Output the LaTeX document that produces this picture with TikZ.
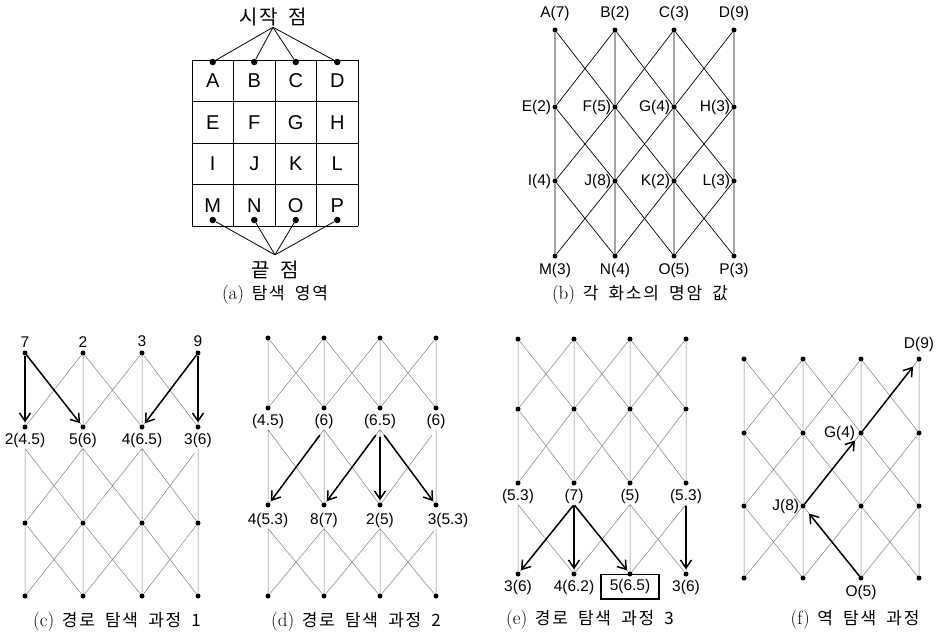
\documentclass[tikz,border=0pt]{standalone}
\usepackage{fontspec}
\setsansfont{Liberation Sans}
\newfontfamily\kr[LetterSpace=10]{Noto Sans CJK KR}
\usetikzlibrary{positioning,arrows.meta}

% one 4x4 grid of pixels: #1 prefix, #2 column x, #3 row y
\newcommand\lattice[3]{%
  \foreach \n [count=\k from 0] in {A,B,C,D,E,F,G,H,I,J,K,L,M,N,O,P}{
    \pgfmathsetmacro\xx{{#2}[mod(\k,4)]}
    \pgfmathsetmacro\yy{{#3}[int(\k/4)]}
    \node[dot] (#1\n) at (\xx,\yy) {};
  }}
% links between two rows: #2-#5 upper row, #6-#9 lower row
\newcommand\xlinks[9][]{%
  \draw[link,#1] (#2)--(#6) (#3)--(#7) (#4)--(#8) (#5)--(#9)
    (#2)--(#7) (#3)--(#6) (#3)--(#8) (#4)--(#7) (#4)--(#9) (#5)--(#8);}
\newcommand\subcap[2]{{\fontsize{19}{20}\selectfont(#1)}\hspace{0.45em}{\kr\spaceskip=0.6em\relax #2}}

\tikzset{
  dot/.style={circle, fill, inner sep=0pt, minimum size=5pt},
  bigdot/.style={circle, fill, inner sep=0pt, minimum size=6.5pt},
  link/.style={line width=0.5pt, black!50},
  blink/.style={line width=0.7pt, black},
  cell/.style={line width=0.9pt},
  hub/.style={line width=0.8pt},
  trace/.style={line width=1.5pt, -{Straight Barb[length=8pt,width=11pt]}, shorten >=2pt},
  lbl/.style={font=\sffamily\fontsize{15.5}{16}\selectfont, inner sep=1pt},
  letter/.style={font=\sffamily\fontsize{20}{20}\selectfont},
  kor/.style={font=\kr\fontsize{20}{22}\selectfont, inner sep=1pt},
  caption/.style={font=\fontsize{17}{20}\selectfont},
}

\begin{document}
\begin{tikzpicture}[x=1pt,y=-1pt]
  \useasboundingbox (0,0) rectangle (946,635);

  % (a) search area
  \foreach \i in {0,...,4}{
    \draw[cell] ({192+41.5*\i},60) -- ({192+41.5*\i},226);
    \draw[cell] (192,{60+41.5*\i}) -- (358,{60+41.5*\i});
  }
  \foreach \n [count=\k from 0] in {A,...,P}
    \node[letter] (a\n) at ({212.75+41.5*mod(\k,4)},{80.75+41.5*int(\k/4)}) {\n};
  \node[kor] (st) at (273,17) {시작\hspace{4pt} 점};
  \node[kor] (fin) at (275,270) {끝\hspace{4pt} 점};
  \foreach \i in {0,...,3}{
    \node[bigdot] (as\i) at ({212.75+41.5*\i},62) {};
    \node[bigdot] (ae\i) at ({212.75+41.5*\i},220) {};
    \draw[hub] (st.south) -- (as\i);
    \draw[hub] ([yshift=5pt]fin.north) -- (ae\i);
  }
  \node[caption] (capa) at (275,295) {\subcap{a}{탐색 영역}};

  % (b) intensity of each pixel
  \lattice{b}{555,615,674,734}{30,107,181,256}
  \xlinks[blink]{bA}{bB}{bC}{bD}{bE}{bF}{bG}{bH}
  \xlinks[blink]{bE}{bF}{bG}{bH}{bI}{bJ}{bK}{bL}
  \xlinks[blink]{bI}{bJ}{bK}{bL}{bM}{bN}{bO}{bP}
  \foreach \n/\v in {A/7,B/2,C/3,D/9}
    \node[lbl, above=5pt of b\n] (bl\n) {\n(\v)};
  \foreach \n/\v in {E/2,F/5,G/4,H/3,I/4,J/8,K/2,L/3}
    \node[lbl, left=0pt of b\n] (bl\n) {\n(\v)};
  \foreach \n/\v in {M/3,N/4,O/5,P/3}
    \node[lbl, below=3pt of b\n] (bl\n) {\n(\v)};
  \node[caption] (capb) at (640,295) {\subcap{b}{각 화소의 명암 값}};

  % (c) path search step 1
  \lattice{c}{25,83,142,198}{353,427,523,596}
  \foreach \n/\v in {A/7,B/2,C/3,D/9}
    \node[lbl, above=2pt of c\n] (cl\n) {\v};
  \foreach \n/\v in {E/2(4.5),F/5(6),G/4(6.5),H/3(6)}
    \node[lbl, below=2pt of c\n] (cl\n) {\v};
  \xlinks{cA}{cB}{cC}{cD}{cE}{cF}{cG}{cH}
  \xlinks[shorten <=6pt]{clE.south}{clF.south}{clG.south}{clH.south}{cI}{cJ}{cK}{cL}
  \xlinks{cI}{cJ}{cK}{cL}{cM}{cN}{cO}{cP}
  \draw[trace] (cA) -- (cE);
  \draw[trace] (cA) -- (cF);
  \draw[trace] (cD) -- (cG);
  \draw[trace] (cD) -- (cH);
  \node[caption] (capc) at (117,622) {\subcap{c}{경로 탐색 과정 1}};

  % (d) path search step 2
  \lattice{d}{268,324,380,436}{338,408,505,596}
  \foreach \n/\v in {E/(4.5),F/(6),G/(6.5),H/(6)}
    \node[lbl, below=2pt of d\n] (dl\n) {\v};
  \foreach \n/\v in {I/4(5.3),J/8(7),K/2(5)}
    \node[lbl, below=4pt of d\n] (dl\n) {\v};
  \node[lbl, below=4pt of dL, xshift=12pt] (dlL) {3(5.3)};
  \xlinks{dA}{dB}{dC}{dD}{dE}{dF}{dG}{dH}
  \xlinks[shorten <=7pt]{dlE.south}{dlF.south}{dlG.south}{dlH.south}{dI}{dJ}{dK}{dL}
  \xlinks[shorten <=3pt]{dlI.south}{dlJ.south}{dlK.south}{dL |- dlL.south}{dM}{dN}{dO}{dP}
  \draw[trace, shorten <=7pt] (dlF.south) -- (dI);
  \draw[trace, shorten <=7pt] (dlG.south) -- (dJ);
  \draw[trace, shorten <=7pt] (dlG.south) -- (dK);
  \draw[trace, shorten <=7pt] (dlG.south) -- (dL);
  \node[caption] (capd) at (356,622) {\subcap{d}{경로 탐색 과정 2}};

  % (e) path search step 3
  \lattice{e}{518,574,630,686}{339,409,483,574}
  \foreach \n/\v in {I/(5.3),J/(7),K/(5),L/(5.3)}
    \node[lbl, below=2pt of e\n] (el\n) {\v};
  \foreach \n/\v in {M/3(6),N/4(6.2),P/3(6)}
    \node[lbl, below=2pt of e\n] (el\n) {\v};
  \node[lbl, below=-3pt of eO, draw, line width=1.6pt, inner xsep=9pt, inner ysep=5pt] (elO) {5(6.5)};
  \xlinks{eA}{eB}{eC}{eD}{eE}{eF}{eG}{eH}
  \xlinks{eE}{eF}{eG}{eH}{eI}{eJ}{eK}{eL}
  \xlinks[shorten <=1pt]{elI.south}{elJ.south}{elK.south}{elL.south}{eM}{eN}{eO}{eP}
  \draw[trace, shorten <=1pt] (elJ.south) -- (eM);
  \draw[trace, shorten <=1pt] (elJ.south) -- (eN);
  \draw[trace, shorten <=1pt] (elJ.south) -- (eO);
  \draw[trace, shorten <=1pt] (elL.south) -- (eP);
  \node[caption] (cape) at (590,620) {\subcap{e}{경로 탐색 과정 3}};

  % (f) backward search
  \lattice{f}{744,803,861,919}{359,433,506,578}
  \xlinks{fA}{fB}{fC}{fD}{fE}{fF}{fG}{fH}
  \xlinks{fE}{fF}{fG}{fH}{fI}{fJ}{fK}{fL}
  \xlinks{fI}{fJ}{fK}{fL}{fM}{fN}{fO}{fP}
  \node[lbl, above=3pt of fD] (flD) {D(9)};
  \node[lbl, left=2pt of fG] (flG) {G(4)};
  \node[lbl, left=0pt of fJ] (flJ) {J(8)};
  \node[lbl, below=3pt of fO] (flO) {O(5)};
  \draw[trace, shorten >=7pt] (fO) -- (fJ);
  \draw[trace, shorten >=7pt] (fJ) -- (fG);
  \draw[trace, shorten >=7pt] (fG) -- (fD);
  \node[caption] (capf) at (855,620) {\subcap{f}{역 탐색 과정}};
\end{tikzpicture}
\end{document}
